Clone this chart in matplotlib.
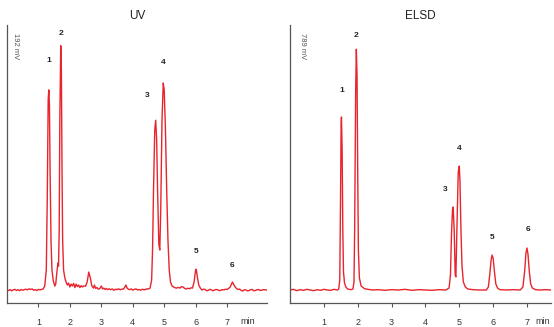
"""
UV and ELSD chromatograms of the same six-component sample, side by side.
"""

import matplotlib
matplotlib.use('Agg')
import matplotlib.pyplot as plt

plt.rcParams['font.family'] = ['Liberation Sans', 'DejaVu Sans']

# UV trace (min, mV)
uv_time = [0.00, 0.05, 0.10, 0.15, 0.20, 0.25, 0.30, 0.35, 0.40, 0.45,
           0.50, 0.55, 0.60, 0.65, 0.70, 0.75, 0.80, 0.85, 0.90, 0.95,
           1.00, 1.05, 1.10, 1.15, 1.20, 1.25, 1.28, 1.31, 1.33, 1.35,
           1.37, 1.40, 1.43, 1.47, 1.52, 1.55, 1.58, 1.62, 1.64, 1.66,
           1.68, 1.71, 1.73, 1.75, 1.77, 1.80, 1.84, 1.88, 1.92, 1.96,
           2.00, 2.04, 2.08, 2.12, 2.16, 2.20, 2.24, 2.28, 2.32, 2.36,
           2.40, 2.45, 2.50, 2.55, 2.60, 2.65, 2.70, 2.75, 2.78, 2.82,
           2.86, 2.90, 2.95, 3.00, 3.04, 3.08, 3.12, 3.16, 3.20, 3.25,
           3.30, 3.35, 3.40, 3.45, 3.50, 3.55, 3.60, 3.65, 3.70, 3.74,
           3.78, 3.82, 3.86, 3.90, 3.95, 4.00, 4.05, 4.10, 4.15, 4.20,
           4.25, 4.30, 4.35, 4.40, 4.45, 4.50, 4.55, 4.60, 4.63, 4.66,
           4.70, 4.73, 4.76, 4.79, 4.83, 4.86, 4.89, 4.93, 4.97, 5.00,
           5.04, 5.08, 5.12, 5.16, 5.20, 5.25, 5.30, 5.35, 5.40, 5.45,
           5.50, 5.55, 5.60, 5.65, 5.70, 5.75, 5.80, 5.85, 5.90, 5.95,
           6.00, 6.02, 6.06, 6.10, 6.15, 6.20, 6.25, 6.30, 6.35, 6.40,
           6.45, 6.50, 6.55, 6.60, 6.65, 6.70, 6.75, 6.80, 6.85, 6.90,
           6.95, 7.00, 7.05, 7.10, 7.17, 7.22, 7.26, 7.30, 7.35, 7.40,
           7.45, 7.50, 7.55, 7.60, 7.65, 7.70, 7.75, 7.80, 7.85, 7.90,
           7.95, 8.00, 8.05, 8.10, 8.15, 8.20, 8.26]
uv_signal = [0.2, -0.4, 0.3, -0.6, 0.1, 0.5, -0.3, 0.2, -0.5, 0.4,
             -0.2, 0.3, 0.6, 0.1, 0.9, 0.4, 0.8, -0.2, 0.3, -0.4,
             0.5, 0.1, 0.4, 0.8, 2.9, 14.5, 65.0, 138.0, 145.0, 134.0,
             87.0, 36.0, 14.5, 7.0, 2.9, 4.3, 11.6, 19.6, 17.4, 43.0,
             123.0, 177.0, 159.0, 87.0, 36.0, 14.5, 8.7, 5.8, 3.6, 5.0,
             2.2, 4.3, 2.9, 4.8, 1.8, 4.3, 2.5, 3.6, 1.8, 3.2,
             2.2, 3.0, 2.8, 5.8, 13.0, 8.7, 2.9, 1.4, 3.6, 1.2,
             1.8, 0.7, 1.0, 2.9, 0.8, 1.4, 0.4, 1.1, 0.3, 0.9,
             0.2, 0.8, -0.2, 0.6, 0.3, 0.9, 0.1, 0.7, 0.6, 1.8,
             3.6, 1.4, 0.6, 0.3, 0.8, -0.1, 0.5, 0.8, 0.1, 0.4,
             -0.2, 0.6, 0.2, 0.3, 0.9, 0.7, 1.4, 7.2, 29.0, 72.0,
             116.0, 123.0, 109.0, 72.0, 33.0, 29.0, 58.0, 123.0, 150.0, 145.0,
             116.0, 72.0, 36.0, 14.5, 5.8, 2.9, 2.2, 1.6, 1.4, 1.9,
             1.4, 2.5, 2.2, 1.2, 0.7, 1.3, 0.9, 1.6, 1.4, 5.8,
             14.5, 15.0, 8.7, 3.6, 1.4, 0.0, 0.6, 0.4, -0.5, -0.3,
             0.5, 0.2, -0.6, 0.0, 0.4, 0.2, -0.4, -0.2, 0.3, 0.1,
             0.6, 0.4, 1.2, 2.2, 5.8, 3.6, 2.2, 1.1, 0.4, 0.7,
             -0.3, -0.7, 0.2, 0.0, -0.6, -0.4, 0.3, 0.4, -0.5, -0.4,
             0.2, 0.4, -0.3, -0.2, 0.3, 0.2, 0.0]

# ELSD trace (min, mV)
elsd_time = [0.00, 0.10, 0.20, 0.30, 0.40, 0.50, 0.60, 0.70, 0.80, 0.90,
             1.00, 1.10, 1.20, 1.30, 1.40, 1.44, 1.47, 1.49, 1.51, 1.52,
             1.54, 1.56, 1.58, 1.61, 1.65, 1.70, 1.80, 1.86, 1.89, 1.91,
             1.94, 1.96, 1.98, 2.00, 2.02, 2.05, 2.10, 2.20, 2.30, 2.45,
             2.60, 2.80, 3.00, 3.20, 3.40, 3.60, 3.80, 4.00, 4.20, 4.40,
             4.60, 4.70, 4.74, 4.77, 4.80, 4.82, 4.85, 4.88, 4.90, 4.93,
             4.97, 5.00, 5.02, 5.05, 5.08, 5.12, 5.18, 5.25, 5.40, 5.60,
             5.80, 5.86, 5.90, 5.94, 5.97, 6.00, 6.04, 6.08, 6.13, 6.20,
             6.40, 6.60, 6.80, 6.88, 6.93, 6.97, 7.00, 7.03, 7.07, 7.11,
             7.16, 7.25, 7.40, 7.55, 7.70]
elsd_signal = [0, 2, -2, 1, -1, 2, 0, -2, 1, -1,
               2, 0, -1, 2, 0, 3, 30, 240, 490, 515,
               417, 180, 54, 21, 9, 3, 1, 3, 24, 180,
               595, 717, 640, 357, 119, 36, 12, 4, 2, 0,
               1, -1, 1, 0, 2, -1, 1, 0, -1, 1,
               0, 6, 45, 164, 238, 247, 179, 45, 39, 179,
               351, 369, 327, 179, 74, 24, 9, 3, 1, 0,
               0, 9, 45, 89, 104, 95, 54, 18, 6, 1,
               0, 1, 0, 9, 54, 110, 125, 107, 54, 18,
               6, 1, 0, 1, 0]

# peak numbers and where their labels sit (min, mV)
peak_names = ['1', '2', '3', '4', '5', '6']
uv_label_t = [1.32, 1.73, 4.46, 4.97, 6.02, 7.16]
uv_label_y = [166, 186, 141, 165, 28, 18]
elsd_label_t = [1.52, 1.96, 4.59, 5.00, 5.98, 7.02]
elsd_label_y = [595, 759, 298, 420, 155, 179]

RED = '#e8242c'
GRAY = '#555555'

fig = plt.figure(figsize=(5.54, 3.27), dpi=100)

panels = [
    ('UV', '192 mV', uv_time, uv_signal, uv_label_t, uv_label_y,
     [7 / 554, 24 / 327, 260 / 554, 278 / 327], (0, 8.27), (-9.4, 192), 7.67,
     0.031),
    ('ELSD', '789 mV', elsd_time, elsd_signal, elsd_label_t, elsd_label_y,
     [290 / 554, 24 / 327, 261 / 554, 278 / 327], (0, 7.71), (-38.7, 789),
     7.48, 0.046),
]

for (title, scale, t, s, lt, ly, rect, xlim, ylim, min_x, scale_x) in panels:
    ax = fig.add_axes(rect)
    ax.plot(t, s, color=RED, lw=1.0)
    ax.set_xlim(*xlim)
    ax.set_ylim(*ylim)

    for sp in ('top', 'right'):
        ax.spines[sp].set_visible(False)
    for sp in ('left', 'bottom'):
        ax.spines[sp].set_color(GRAY)
        ax.spines[sp].set_linewidth(0.9)

    ax.set_yticks([])
    ax.set_xticks(range(1, 8))
    ax.tick_params(axis='x', direction='out', length=3, width=0.8,
                   color=GRAY, labelsize=6.5, labelcolor='#333333', pad=8)

    ax.text(min_x, -0.065, 'min', transform=ax.get_xaxis_transform(),
            ha='center', va='center', fontsize=6.5, color='#333333')

    ax.set_title(title, fontsize=8.5, color='#222222', pad=4)

    ax.text(scale_x, 0.925, scale, transform=ax.transAxes, rotation=270,
            ha='center', va='center', fontsize=5.5, color=GRAY)

    for name, x, y in zip(peak_names, lt, ly):
        ax.text(x, y, name, ha='center', va='center', fontsize=6,
                fontweight='bold', color='#222222')

fig.savefig('out.png', dpi=100)
